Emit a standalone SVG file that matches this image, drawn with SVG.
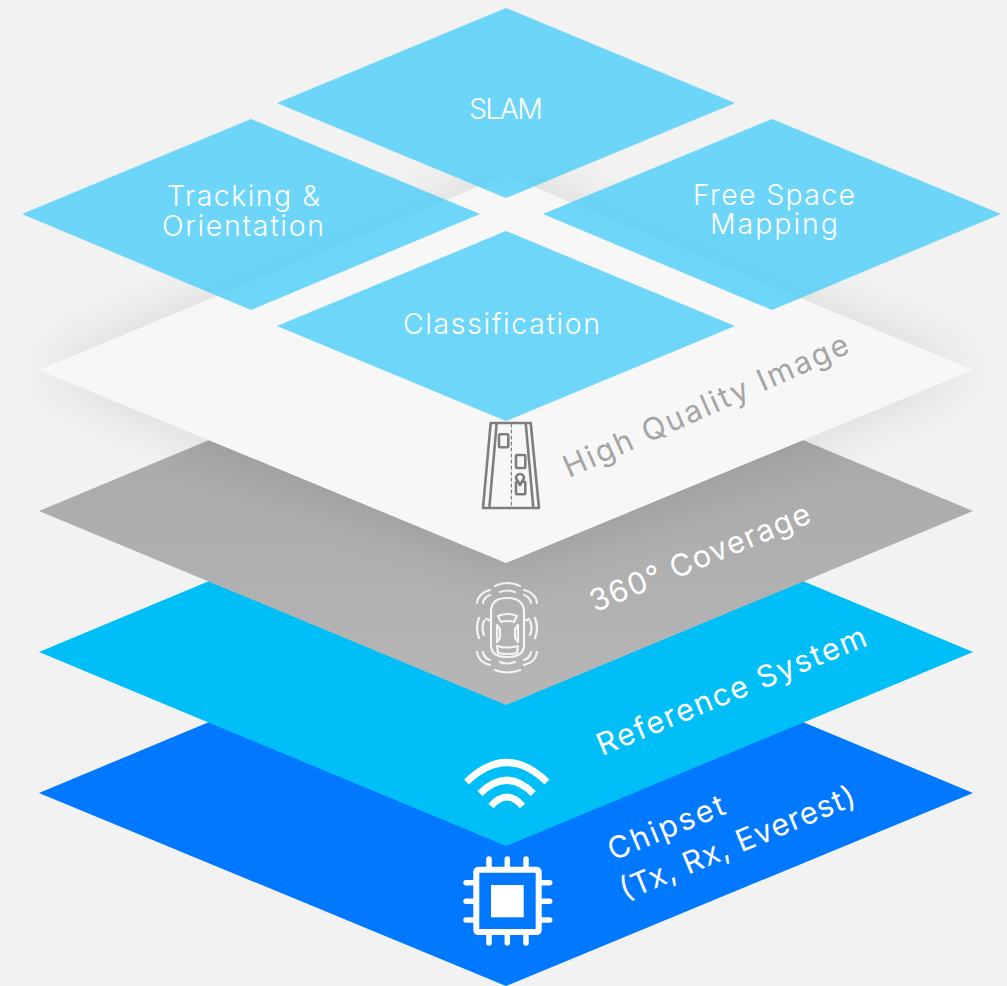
<svg xmlns="http://www.w3.org/2000/svg" width="1007" height="986" viewBox="0 0 1007 986">
<style>
.t{font-family:"Inter","Liberation Sans",sans-serif;font-size:28.500px;font-weight:300;fill:#fff;text-anchor:middle}
.r{font-family:"Inter","Liberation Sans",sans-serif;font-size:30.500px;font-weight:400;fill:#fff}
.d{fill:#3fcbfa;fill-opacity:.75}
.rd{fill:none;stroke:#7e7e7e;stroke-width:2.600;stroke-linejoin:round;stroke-linecap:round}
.car{fill:none;stroke:#f4f4f4;stroke-width:2.200;stroke-linecap:round;stroke-linejoin:round}
.w{fill:none;stroke:#fff;stroke-width:7}
.p{fill:none;stroke:#fff;stroke-width:5.500;stroke-linecap:round}
</style>
<defs>
<filter id="b" x="-20%" y="-30%" width="140%" height="160%"><feGaussianBlur stdDeviation="28"/></filter>
<linearGradient id="g" x1="0" y1="0" x2="0" y2="1"><stop offset="0" stop-color="#a4a4a4"/><stop offset="1" stop-color="#b6b6b6"/></linearGradient>
</defs>
<rect width="1007" height="986" fill="#f2f2f2"/>
<g id="layer-chipset"><polygon points="506,598 973,793 506,986 39,793" fill="#0078ff"/>
<g class="ic"><rect x="476.300" y="869.700" width="62.400" height="62.400" rx="2" fill="none" stroke="#fff" stroke-width="6"/><rect x="491" y="885" width="32.700" height="32.300" fill="#fff"/>
<path class="p" d="M489 859V867M507.300 859V867M526 859V867M489 935V943M507.300 935V943M526 935V943M466 882.700H473M466 901.300H473M466 920H473M541.700 882.700H549.700M541.700 901.300H549.700M541.700 920H549.700"/></g>
<text class="r" transform="translate(613 861) rotate(-22.600)" textLength="124" lengthAdjust="spacing">Chipset</text>
<text class="r" transform="translate(625 901) rotate(-22.600)" textLength="252" lengthAdjust="spacing">(Tx, Rx, Everest)</text></g>
<g id="layer-reference"><polygon points="506,457 973,652 506,846 39,652" fill="#00bff8"/>
<path class="w" d="M466.500 782Q506.700 743 547 782M480 793.500Q506.700 767 533.300 793.500M491 806Q506.700 788 522.500 806"/>
<text class="r" transform="translate(602 756) rotate(-22.600)" textLength="289" lengthAdjust="spacing">Reference System</text></g>
<g id="layer-coverage"><polygon points="506,316 973,511 506,705 39,511" fill="url(#g)"/>
<g id="car-icon"><path class="car" d="M491 625V612Q491 598 507 598Q524 598 524 612V645Q524 657 507 657Q491 657 491 645ZM491 621L486 619M524 621L529 619M498 616Q507 612 517 616L514 622Q507 620 501 622ZM497 646Q507 649 518 646L517 653Q507 655 498 653ZM497 625L500 629V638L497 642ZM518 625L515 629V638L518 642Z"/>
<path class="car" d="M495 586Q507 580 520 586M500 592Q507 589 515 592M495 670Q507 675 520 670M500 662Q507 665 515 662M477 603Q478 593 490 590M483 603Q484 597 490 595M537 603Q536 593 524 590M531 603Q530 597 524 595M477 652Q478 662 490 665M483 652Q484 658 490 660M537 652Q536 662 524 665M531 652Q530 658 524 660M479 618Q475 628 479 638M484 621Q481 628 484 635M535 618Q539 628 535 638M530 621Q533 628 530 635"/></g>
<text class="r" transform="translate(595 612.500) rotate(-22.600)" textLength="236" lengthAdjust="spacing">360° Coverage</text></g>
<g id="shadows"><polygon points="506,175 973,370 506,563 39,370" fill="#000" opacity=".11" filter="url(#b)"/></g>
<g id="layer-image"><polygon points="506,175 973,370 506,563 39,370" fill="#f7f7f7"/>
<path class="rd" d="M490.700 423H530.700L539 508H483ZM496.700 423L489.300 508M525.700 423L533.300 508"/>
<path class="rd" stroke-dasharray="3 3" style="stroke-width:1.200" d="M511.400 424V507"/>
<rect class="rd" x="499" y="434.300" width="9.300" height="13" rx="1"/><rect class="rd" x="516" y="455" width="9.300" height="13" rx="1"/><rect class="rd" x="516" y="481.700" width="9.300" height="12.600" rx="1"/><path class="rd" d="M520 485L516 478A4 4 0 1 1 524 478Z" style="fill:#f7f7f7"/>
<text class="r" style="fill:#a5a5a5" transform="translate(569 478) rotate(-24)" textLength="309" lengthAdjust="spacing">High Quality Image</text></g>
<g id="node-slam"><polygon class="d" points="506,8 735,103 506,198 277,103"/><text class="t" x="506" y="119" textLength="74">SLAM</text></g>
<g id="node-tracking"><polygon class="d" points="251,119 480,214 251,310 22,214"/><text class="t" x="243.500" y="206" textLength="153">Tracking &amp;</text><text class="t" x="243" y="236" textLength="162">Orientation</text></g>
<g id="node-free-space"><polygon class="d" points="772,119 1001,214 772,310 543,214"/><text class="t" x="774" y="205" textLength="162">Free Space</text><text class="t" x="774" y="234" textLength="128">Mapping</text></g>
<g id="node-classification"><polygon class="d" points="506,231 735,326 506,421 277,326"/><text class="t" x="501.500" y="334" textLength="197">Classification</text></g>
<g id="connectors"/>
</svg>
